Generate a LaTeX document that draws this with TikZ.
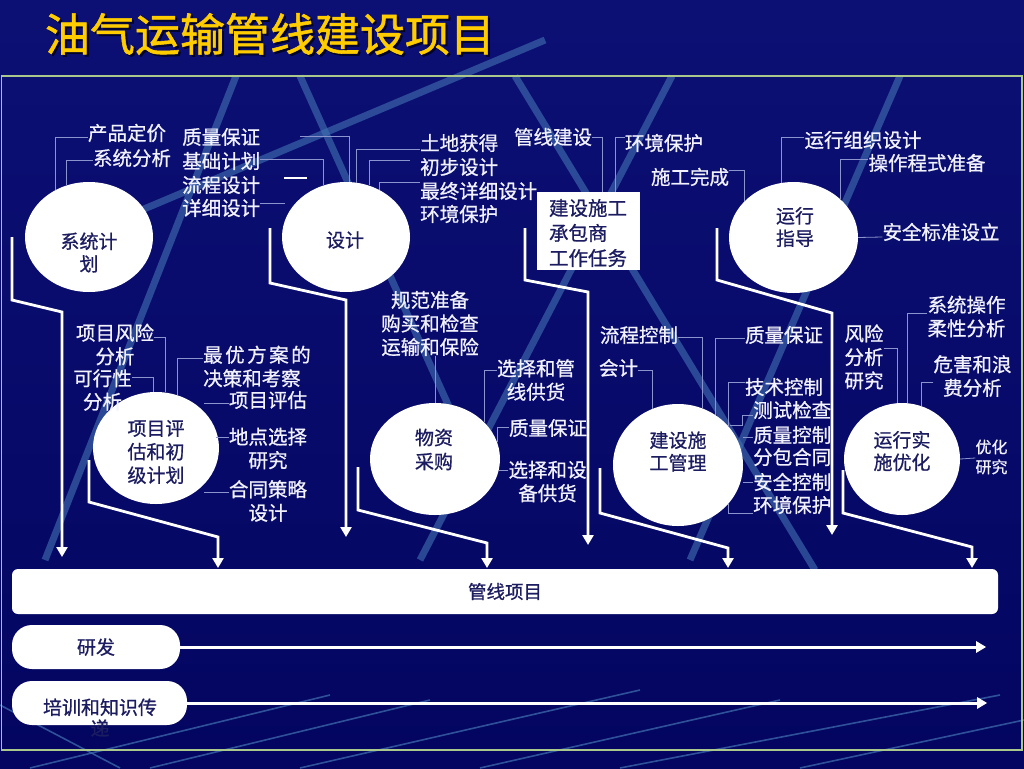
\documentclass[tikz,border=0pt]{standalone}
\usepackage{fontspec}
\setmainfont{Noto Sans CJK SC}
\newfontfamily\fbfont{Noto Sans CJK SC}[FakeBold=0.8]
\newfontfamily\ttlfont{Noto Sans CJK SC}[FakeBold=1.2]
\usetikzlibrary{shapes.geometric,arrows.meta,calc}
\definecolor{bgtop}{RGB}{12,16,116}
\definecolor{bgbot}{RGB}{3,5,96}
\definecolor{navy}{RGB}{28,28,96}
\definecolor{labc}{RGB}{242,242,255}
\definecolor{connc}{RGB}{140,148,205}
\definecolor{streakc}{RGB}{66,114,178}
\definecolor{framec}{RGB}{170,200,140}
\definecolor{ttlc}{RGB}{255,204,0}
\tikzset{
  circ/.style={ellipse, fill=white, draw=none, inner sep=0pt},
  ctext/.style={text=navy, font=\fbfont\fontsize{19}{22.5}\selectfont, align=center, inner sep=0pt},
  lbl/.style={text=labc, font=\fbfont\fontsize{19.5}{23.5}\selectfont, inner sep=0pt},
  lblc/.style={lbl, align=center},
  lbll/.style={lbl, align=left, anchor=west},
  conn/.style={draw=connc, line width=0.8pt},
  flow/.style={draw=white, line width=2.8pt, -{Triangle[width=11pt,length=10pt]}},
  harrow/.style={draw=white, line width=3pt, -{Triangle[width=11pt,length=10pt]}},
  streak/.style={draw=streakc, line width=7pt, opacity=0.6},
  thinstreak/.style={draw=streakc, line width=1.6pt, opacity=0.7},
  pill/.style={fill=white, draw=none, inner sep=0pt},
}
\begin{document}
\begin{tikzpicture}[x=1pt,y=-1pt]
\useasboundingbox (0,0) rectangle (1024,768);
% background
\shade[top color=bgtop, bottom color=bgbot] (0,0) rectangle (1024,768);
% decorative streaks
\draw[streak] (236,76) -- (45,560);
\draw[streak] (80,236) -- (545,40);
\draw[streak] (300,76) -- (455,420);
\draw[streak] (515,76) -- (815,570);
\draw[streak] (672,76) -- (420,560);
\draw[streak] (900,76) -- (690,560);
\draw[thinstreak] (30,768) -- (330,695);
\draw[thinstreak] (150,768) -- (430,700);
\draw[thinstreak] (300,768) -- (640,690);
\draw[thinstreak] (480,768) -- (780,700);
\draw[thinstreak] (620,768) -- (1000,695);
\draw[thinstreak] (800,768) -- (1024,720);
\draw[thinstreak] (0,705) -- (120,768);
% frame
\draw[framec, line width=1.2pt] (1.5,76) rectangle (1022,750);
% title
\node[text=black, opacity=0.6, font=\ttlfont\fontsize{45}{45}\selectfont, inner sep=0pt] (ttlsh) at (272,36) {油气运输管线建设项目};
\node[text=ttlc, font=\ttlfont\fontsize{45}{45}\selectfont, inner sep=0pt] (ttl) at (270,34) {油气运输管线建设项目};

% circles and box
\node[circ, minimum width=128pt, minimum height=110pt] (c1) at (89,237) {};
\node[circ, minimum width=128pt, minimum height=110pt] (c2) at (346,237) {};
\node[rectangle, fill=white, minimum width=103pt, minimum height=78pt, inner sep=0pt] (task) at (588.5,231) {};
\node[circ, minimum width=129pt, minimum height=111pt] (c4) at (793.5,237.5) {};
\node[circ, minimum width=126pt, minimum height=112pt] (c5) at (156,448) {};
\node[circ, minimum width=130pt, minimum height=112pt] (c6) at (435,459) {};
\node[circ, minimum width=130pt, minimum height=122pt] (c7) at (678,465) {};
\node[circ, minimum width=116pt, minimum height=112pt] (c8) at (902,459) {};

\node[ctext] (t1) at (89,252.5) {系统计\\划};
\node[ctext] (t2) at (345,240) {设计};
\node[ctext, align=left, font=\fbfont\fontsize{19.5}{25}\selectfont] (t3) at (588,233) {建设施工\\承包商\\工作任务};
\node[ctext] (t4) at (795,227) {运行\\指导};
\node[ctext, font=\fbfont\fontsize{19}{23.5}\selectfont] (t5) at (156,452) {项目评\\估和初\\级计划};
\node[ctext, font=\fbfont\fontsize{19}{24}\selectfont] (t6) at (434,449.5) {物资\\采购};
\node[ctext] (t7) at (678,451.5) {建设施\\工管理};
\node[ctext] (t8) at (902,451) {运行实\\施优化};

% labels
\node[lbl] (pd) at (127,133) {产品定价};
\node[lbl] (xf) at (132,158) {系统分析};
\node[lbll] (zl) at (182,137) {质量保证};
\node[lbll] (jc) at (182,161) {基础计划};
\node[lbll] (lc) at (182,185) {流程设计};
\node[lbll] (xx) at (182,208) {详细设计};
\node[lbll] (td) at (420,143) {土地获得};
\node[lbll] (cb) at (420,167) {初步设计};
\node[lbll] (zz) at (420,191) {最终详细设计};
\node[lbll] (hb1) at (420,214) {环境保护};
\node[lbl] (gx) at (553,137) {管线建设};
\node[lbl] (hb2) at (664,143) {环境保护};
\node[lbl] (sw) at (690,177) {施工完成};
\node[lbl] (yx) at (863,140) {运行组织设计};
\node[lbl] (cz) at (927,163) {操作程式准备};
\node[lbl] (aq) at (941,232) {安全标准设立};

\node[lblc] (fx) at (115,344.5) {项目风险\\分析};
\node[lblc] (kx) at (102.5,390) {可行性\\分析};
\node[lbll] (zy) at (203,366.5) {最\hspace{2.5pt}优\hspace{2.5pt}方\hspace{2.5pt}案\hspace{2.5pt}的\\决策和考察};
\node[lbl] (pg) at (268,400) {项目评估};
\node[lblc] (dd) at (268,448.5) {地点选择\\研究};
\node[lblc] (ht) at (268,501) {合同策略\\设计};

\node[lblc] (gf) at (430,323.5) {规范准备\\购买和检查\\运输和保险};
\node[lblc] (xg) at (536,380) {选择和管\\线供货};
\node[lbl] (zl2) at (548,428) {质量保证};
\node[lblc] (xs) at (547.5,481.5) {选择和设\\备供货};

\node[lbl] (lk) at (639,335) {流程控制};
\node[lbl] (kj) at (618.5,368) {会计};
\node[lbl] (zb) at (784,335) {质量保证};
\node[lbl] (js) at (784,387) {技术控制};
\node[lbll] (cs) at (753,410) {测试检查};
\node[lbll] (zk) at (753,435) {质量控制};
\node[lbll] (fb) at (753,457) {分包合同};
\node[lbll] (aq2) at (753,482) {安全控制};
\node[lbll] (hj) at (753,505) {环境保护};

\node[lblc] (fx2) at (864,357) {风险\\分析\\研究};
\node[lblc] (xc) at (966.5,316.5) {系统操作\\柔性分析};
\node[lblc] (wh) at (972.5,376) {危害和浪\\费分析};
\node[lblc, font=\fbfont\fontsize{16}{20}\selectfont] (yh) at (991.5,457) {优化\\研究};

% connectors
\draw[conn] ([yshift=-4pt]pd.west) -| (c1.125);
\draw[conn] ([yshift=-2pt]xf.west) -| (c1.114);
\draw[conn] ([xshift=40pt,yshift=1pt]zl.east) -| (c2.86);
\draw[conn] ([yshift=2pt]jc.east) -| (c2.114);
\draw[white, line width=1.6pt] ([xshift=24pt,yshift=7pt]lc.east) -- ++(23,0);
\draw[conn] ([yshift=5pt]xx.east) -- ++(25,0);
\draw[conn] ([yshift=-6pt]td.west) -| (c2.79);
\draw[conn] ([xshift=-10pt,yshift=7pt]cb.west) -| (c2.66);
\draw[conn] ([yshift=9pt]zz.west) -| (c2.55);
\draw[conn] (gx.east) -| ([xshift=13.5pt]task.north);
\draw[conn] ([yshift=6pt]hb2.west) -| ([xshift=26.5pt]task.north);
\draw[conn] ([yshift=7pt]sw.east) -| (c4.143);
\draw[conn] ([yshift=3pt]yx.west) -| (c4.102);
\draw[conn] ([yshift=4pt]cz.west) -| (c4.39);
\draw[conn] ([yshift=-5pt]aq.west) -- (c4.east);
\draw[conn] ([yshift=7.5pt]fx.east) -| (c5.80);
\draw[conn] ([yshift=13pt]kx.east) -| (c5.93);
\draw[conn] ([yshift=8.5pt]zy.west) -| (c5.68);
\draw[conn] ([yshift=-3pt]pg.west) -- ++(-25,0);
\draw[conn] ([yshift=11.5pt]dd.west) -- ++(-13,0);
\draw[conn] ([yshift=9pt]ht.west) -- ++(-25,0);
\draw[conn] (c6.north) -- (c6.north |- gf.south);
\draw[conn] ([yshift=10pt]xg.west) -| (c6.37);
\draw[conn] ([yshift=1pt]zl2.west) -| (c6.15);
\draw[conn] ([yshift=11.5pt]xs.west) -- ++(-9,0);
\draw[conn] ([yshift=-2pt]lk.east) -| (c7.67);
\draw[conn] ([yshift=-2pt]kj.east) -| (c7.114);
\draw[conn] ([yshift=-3pt]zb.west) -| (c7.53);
\draw[conn] ([yshift=5pt]js.west) -| (c7.37);
\draw[conn] ([yshift=-5pt]cs.west) -- ++(-11,0) -- ++(0,10) -- ++(-12,0);
\draw[conn] ([yshift=-2pt]zk.west) -- ++(-10,0);
\draw[conn] (aq2.west) -- ++(-10,0);
\draw[conn] ([yshift=-8pt]hj.west) -| (c7.-37);
\draw[conn] ([yshift=9pt]fx2.east) -| (c8.95);
\draw[conn] ([yshift=3.5pt]xc.west) -| (c8.84);
\draw[conn] ([yshift=-6pt]wh.west) -| (c8.70);
\draw[conn] ([yshift=-1pt]yh.west) -- (c8.east);

% flow arrows
\coordinate (f1) at (12,237);
\coordinate (f2) at (89,460);
\coordinate (f3) at (270,228);
\coordinate (f4) at (358,467);
\coordinate (f5) at (525,228);
\coordinate (f6) at (600,468);
\coordinate (f7) at (717,228);
\coordinate (f8) at (843,470);
\draw[flow] (f1) -- ++(0,63) -- ++(50,12) -- ++(0,245);
\draw[flow] (f2) -- ++(0,42) -- ++(129,35) -- ++(0,31);
\draw[flow] (f3) -- ++(0,55) -- ++(76,17) -- ++(0,237);
\draw[flow] (f4) -- ++(0,43) -- ++(129,33) -- ++(0,25);
\draw[flow] (f5) -- ++(0,52) -- ++(63,12) -- ++(0,253);
\draw[flow] (f6) -- ++(0,45) -- ++(128,35) -- ++(0,20);
\draw[flow] (f7) -- ++(0,52) -- ++(115,33) -- ++(0,222);
\draw[flow] (f8) -- ++(0,43) -- ++(129,34) -- ++(0,21);

% bottom bars
\node[pill, rounded corners=6pt, minimum width=986pt, minimum height=45pt, text=navy, font=\fbfont\fontsize{18.5}{22}\selectfont] (bar) at (505,591.5) {管线项目};
\node[pill, rounded corners=20pt, minimum width=168pt, minimum height=44pt, text=navy, font=\fbfont\fontsize{19}{22}\selectfont] (rf) at (96,647) {研发};
\node[pill, rounded corners=20pt, minimum width=175pt, minimum height=44pt] (px) at (99.5,703) {};
\node[text=navy, font=\fbfont\fontsize{19}{21}\selectfont, align=center, inner sep=0pt] (pxt) at (100,717.5) {培训和知识传\\递};
\draw[harrow] (rf.east) -- ++(806,0);
\draw[harrow] (px.east) -- ++(800,0);
\end{tikzpicture}
\end{document}
